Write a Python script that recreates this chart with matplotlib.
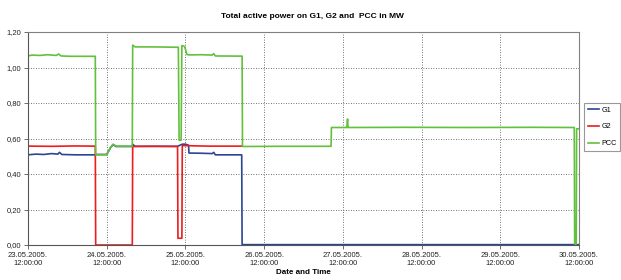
import numpy as np
import pandas as pd
import matplotlib
matplotlib.use("Agg")
import matplotlib.pyplot as plt
import matplotlib.dates as mdates

plt.rcParams['font.family'] = ['Liberation Sans', 'DejaVu Sans']

start = pd.Timestamp("2005-05-23 12:00:00")

# day offsets from start, values in MW
g1_days = [0.00, 0.10, 0.20, 0.30, 0.38, 0.40, 0.43, 0.60, 0.855, 0.86, 1.00, 1.05, 1.08, 1.12, 1.32,
           1.33, 1.36, 1.90, 1.96, 2.00, 2.04, 2.045, 2.20, 2.34, 2.36, 2.38, 2.715, 2.72, 7.00]
g1_vals = [0.508, 0.512, 0.510, 0.515, 0.512, 0.522, 0.510, 0.508, 0.508, 0.510, 0.510, 0.550, 0.565, 0.555, 0.555,
           0.568, 0.556, 0.556, 0.568, 0.568, 0.562, 0.518, 0.517, 0.515, 0.522, 0.508, 0.508, 0.002, 0.002]

g2_days = [0.00, 0.30, 0.60, 0.855, 0.86, 1.325, 1.33, 1.60, 1.90, 1.905, 1.955, 1.96, 2.30, 2.72]
g2_vals = [0.557, 0.556, 0.558, 0.557, 0.0, 0.0, 0.555, 0.556, 0.555, 0.038, 0.038, 0.560, 0.557, 0.557]

pcc_days = [0.00, 0.05, 0.15, 0.25, 0.36, 0.39, 0.42, 0.55, 0.855, 0.86, 1.00, 1.05, 1.08, 1.12, 1.325,
            1.33, 1.36, 1.60, 1.91, 1.92, 1.945, 1.955, 1.99, 2.02, 2.05, 2.20, 2.34, 2.36, 2.38, 2.72,
            2.725, 3.20, 3.85, 3.855, 4.05, 4.06, 4.065, 4.80, 5.60, 6.40, 6.94, 6.945, 6.965, 6.97, 7.00]
pcc_vals = [1.065, 1.070, 1.068, 1.072, 1.068, 1.076, 1.065, 1.063, 1.063, 0.508, 0.508, 0.550, 0.568, 0.557, 0.557,
            1.126, 1.116, 1.116, 1.114, 0.590, 0.590, 1.124, 1.118, 1.073, 1.071, 1.072, 1.070, 1.078, 1.065, 1.064,
            0.555, 0.556, 0.556, 0.662, 0.662, 0.710, 0.662, 0.663, 0.662, 0.663, 0.662, 0.005, 0.005, 0.655, 0.655]

tick_days = [0, 1, 2, 3, 4, 5, 6, 7]


def to_time(days):
    return start + pd.to_timedelta(np.array(days), unit="D")


fig = plt.figure(figsize=(6.21, 2.8), dpi=100)
ax = fig.add_axes([28 / 621, 1 - 245 / 280, (579 - 28) / 621, (245 - 32) / 280])

ax.plot(to_time(g1_days), g1_vals, color="#2c4596", lw=1.2, label="G1")
ax.plot(to_time(g2_days), g2_vals, color="#ee1c1c", lw=1.2, label="G2")
ax.plot(to_time(pcc_days), pcc_vals, color="#62c13c", lw=1.2, label="PCC")

ax.set_xlim(to_time([0])[0], to_time([7])[0])
ax.set_ylim(0, 1.2)
ax.set_xticks(to_time(tick_days))
ax.xaxis.set_major_formatter(mdates.DateFormatter("%d.%m.%Y.\n%H:%M:%S"))
ax.set_yticks(np.arange(0, 1.21, 0.2))
ax.set_yticklabels([f"{v:.2f}".replace(".", ",") for v in np.arange(0, 1.21, 0.2)])
ax.tick_params(labelsize=5.5, length=3, width=0.6, color="#555555", labelcolor="#222222", pad=2)

ax.grid(True, color="#444444", linestyle=(0, (1, 2)), linewidth=0.6)
for s in ax.spines.values():
    s.set_color("#808080")
    s.set_linewidth(0.8)
ax.spines["left"].set_color("#555555")
ax.spines["bottom"].set_color("#555555")

fig.text(312 / 621, 1 - 16 / 280, "Total active power on G1, G2 and  PCC in MW",
         ha="center", va="center", fontsize=6.0, fontweight="bold")
fig.text(303 / 621, 1 - 272 / 280, "Date and Time", ha="center", va="center",
         fontsize=5.8, fontweight="bold")

leg = ax.legend(loc="upper left", bbox_to_anchor=(584 / 621, 1 - 103 / 280),
                bbox_transform=fig.transFigure, fancybox=False, fontsize=5.2,
                handlelength=1.6, labelspacing=1.35, borderpad=0.5, handletextpad=0.3,
                borderaxespad=0)
leg.get_frame().set_edgecolor("#808080")
leg.get_frame().set_linewidth(0.8)

fig.savefig("out.png", dpi=100)
